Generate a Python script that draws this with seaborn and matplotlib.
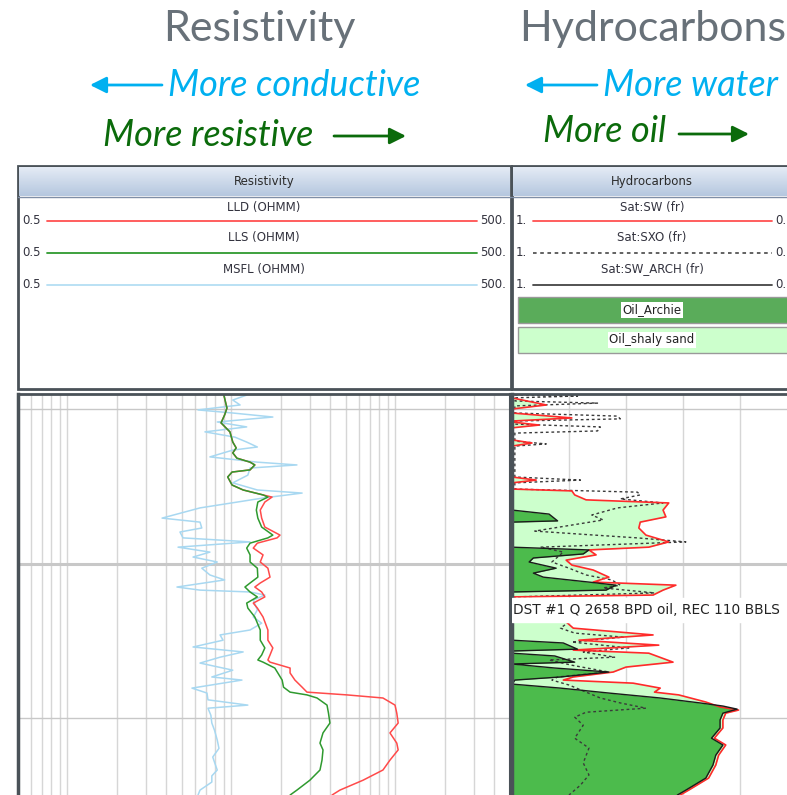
import numpy as np
import matplotlib
matplotlib.use("Agg")
import matplotlib.pyplot as plt
import seaborn as sns
from matplotlib.colors import LinearSegmentedColormap
from matplotlib.patches import Rectangle
from matplotlib.ticker import LogLocator, NullFormatter

# ---------------- resistivity track (depth ft / ohmm) ----------------
res_depth = [5295.5, 5299.7, 5301.9, 5304.5, 5307.4, 5310.7, 5312.6, 5314.2, 5315.9, 5317.2,
             5318.1, 5319.7, 5320.4, 5322.0, 5324.6, 5326.2, 5327.8, 5328.5, 5330.1, 5332.7,
             5335.3, 5338.2, 5340.8, 5341.7, 5343.4, 5345.0, 5347.2, 5349.5, 5351.5, 5354.4,
             5356.3, 5357.6, 5359.2, 5360.8, 5362.8, 5364.4, 5367.3, 5371.5, 5374.8, 5377.3,
             5379.6, 5381.2, 5381.9, 5383.8, 5385.4, 5387.7, 5390.0, 5391.6, 5392.5, 5393.5,
             5395.8, 5398.4, 5401.6, 5404.8, 5408.1, 5410.3, 5413.6, 5416.8, 5420.1, 5423.3,
             5424.9]
lld = [9.0, 9.4, 9.1, 8.65, 9.8, 10.2, 10.7, 10.2, 10.8, 13.0,
       13.9, 13.0, 10.1, 9.5, 10.1, 11.8, 15.6, 17.7, 16.0, 15.0,
       15.3, 16.0, 19.8, 19.0, 14.4, 13.6, 15.6, 15.0, 16.7, 17.2,
       15.0, 13.9, 15.3, 16.0, 13.6, 14.4, 15.6, 16.7, 16.7, 17.9,
       17.2, 16.7, 17.2, 22.8, 22.8, 24.4, 27.0, 28.9, 50.7, 84,
       99.5, 102, 104, 92.7, 102, 104, 92.7, 84, 63.5, 45.9,
       41.1]
lls = [9.0, 9.4, 9.1, 8.65, 9.8, 10.2, 10.7, 10.2, 10.8, 13.0,
       13.9, 13.0, 10.1, 9.5, 10.1, 11.8, 15.6, 16.7, 14.5, 14.2,
       14.5, 15.3, 17.9, 16.7, 13.0, 12.4, 13.0, 13.0, 14.4, 14.5,
       13.0, 12.1, 13.0, 14.4, 12.4, 12.6, 13.9, 15.0, 15.0, 16.0,
       15.3, 14.5, 15.6, 18.4, 19.2, 20.4, 20.8, 22.8, 28.9, 33.3,
       38.3, 39.1, 39.9, 36.2, 34.7, 36.2, 35.7, 34.7, 30.1, 25.1,
       22.8]
msfl_depth = [5295.5, 5297.1, 5298.7, 5300.3, 5301.3, 5302.6, 5304.2, 5305.8, 5307.4, 5309.1,
              5310.7, 5312.3, 5313.3, 5315.5, 5317.2, 5318.1, 5319.1, 5321.4, 5323.9, 5326.2,
              5327.2, 5328.8, 5332.0, 5335.3, 5336.6, 5338.5, 5339.8, 5341.7, 5343.0, 5344.7,
              5346.3, 5347.9, 5349.5, 5351.5, 5353.7, 5355.3, 5357.6, 5358.6, 5359.2, 5360.2,
              5361.8, 5365.0, 5367.3, 5369.3, 5371.5, 5373.1, 5374.8, 5377.0, 5378.6, 5380.3,
              5382.2, 5384.5, 5386.7, 5387.7, 5390.3, 5391.9, 5394.1, 5395.8, 5396.8, 5399.1,
              5401.6, 5404.0, 5407.1, 5409.8, 5412.6, 5415.2, 5416.8, 5418.7, 5420.7, 5423.3,
              5424.9]
msfl = [12.4, 10.2, 11.3, 6.26, 10.2, 17.9, 8.2, 12.4, 6.9, 10.5,
        12.4, 14.4, 10.2, 7.4, 14.4, 25.1, 13.0, 12.6, 10.2, 14.4,
        27.0, 15.6, 6.44, 3.78, 6.44, 6.6, 4.86, 5.07, 13.0, 4.73,
        7.4, 5.84, 8.2, 6.6, 7.4, 9.1, 4.66, 6.44, 13.0, 16.0,
        13.6, 14.4, 13.6, 15.3, 13.0, 8.53, 8.9, 5.84, 11.8, 8.53,
        6.44, 10.2, 7.6, 11.6, 5.75, 7.1, 7.2, 12.6, 7.2, 7.5,
        7.6, 7.9, 8.2, 8.4, 7.7, 8.0, 8.2, 7.6, 7.6, 6.44,
        6.26]

# ---------------- hydrocarbons track (depth ft / fraction) ----------------
sw_depth = [5295.5, 5296.4, 5298.7, 5300.0, 5301.3, 5302.9, 5303.9, 5304.2, 5305.2, 5306.1,
            5310.0, 5311.0, 5312.0, 5322.0, 5323.0, 5323.9, 5325.9, 5326.5, 5327.8, 5329.4,
            5330.4, 5332.7, 5334.9, 5336.6, 5338.5, 5340.8, 5343.0, 5344.7, 5345.6, 5347.2,
            5348.9, 5350.5, 5352.1, 5354.4, 5356.0, 5357.0, 5358.6, 5360.2, 5360.8, 5368.5,
            5368.9, 5370.9, 5373.1, 5374.8, 5376.4, 5378.0, 5379.0, 5381.9, 5383.5, 5385.1,
            5386.7, 5387.7, 5388.7, 5390.3, 5391.6, 5392.5, 5394.8, 5396.4, 5397.4, 5398.4,
            5400.6, 5403.2, 5406.5, 5408.7, 5412.0, 5415.2, 5419.4, 5423.3, 5424.9]
sw = [1.0, 1.0, 0.88, 1.0, 1.0, 0.79, 1.0, 1.0, 0.905, 1.0,
      1.0, 0.93, 1.0, 1.0, 0.915, 1.0, 1.0, 0.79, 0.78, 0.74,
      0.45, 0.47, 0.46, 0.55, 0.555, 0.53, 0.45, 0.52, 0.73, 0.705,
      0.81, 0.79, 0.715, 0.66, 0.715, 0.425, 0.47, 0.505, 1.0, 1.0,
      0.81, 0.785, 0.505, 0.765, 0.485, 0.785, 0.52, 0.435, 0.60, 0.645,
      0.785, 0.82, 0.575, 0.48, 0.50, 0.415, 0.32, 0.27, 0.205, 0.25,
      0.26, 0.26, 0.29, 0.25, 0.275, 0.285, 0.31, 0.38, 0.41]
arch_depth = [5295.5, 5332.7, 5334.0, 5336.2, 5336.6, 5344.7, 5345.6, 5346.9, 5348.2, 5349.5,
              5351.5, 5353.1, 5354.4, 5356.0, 5357.0, 5358.6, 5359.2, 5374.8, 5375.7, 5377.7,
              5378.3, 5379.0, 5379.9, 5381.9, 5382.5, 5383.8, 5385.1, 5386.7, 5387.7, 5389.0,
              5390.3, 5391.9, 5393.5, 5395.1, 5396.1, 5397.1, 5398.4, 5400.6, 5403.2, 5406.5,
              5408.7, 5412.0, 5415.2, 5419.4, 5423.3, 5424.9]
sw_arch = [1.0, 1.0, 0.87, 0.84, 1.0, 1.0, 0.73, 0.75, 0.925, 0.94,
           0.845, 0.925, 0.89, 0.73, 0.635, 0.67, 1.0, 1.0, 0.82, 0.77,
           1.0, 1.0, 0.85, 0.78, 1.0, 0.85, 0.66, 0.83, 0.99, 1.0,
           0.83, 0.66, 0.48, 0.34, 0.26, 0.21, 0.26, 0.27, 0.27, 0.30,
           0.26, 0.285, 0.295, 0.32, 0.39, 0.42]
sxo_depth = [5295.5, 5295.8, 5296.4, 5297.4, 5298.1, 5299.0, 5301.3, 5302.3, 5303.2, 5303.9,
             5304.9, 5305.8, 5307.1, 5307.8, 5310.4, 5311.3, 5312.0, 5322.0, 5323.0, 5323.9,
             5325.9, 5326.9, 5327.8, 5329.1, 5330.4, 5332.0, 5334.3, 5335.9, 5339.5, 5340.8,
             5341.7, 5343.0, 5344.7, 5346.3, 5349.5, 5351.5, 5353.7, 5355.3, 5357.0, 5357.9,
             5359.5, 5360.8, 5368.5, 5368.9, 5370.9, 5372.5, 5373.8, 5375.4, 5377.3, 5378.6,
             5380.3, 5381.2, 5382.9, 5385.1, 5386.7, 5387.7, 5389.3, 5391.6, 5393.5, 5395.1,
             5396.8, 5398.1, 5399.7, 5402.3, 5406.5, 5409.7, 5414.5, 5418.4, 5421.7, 5424.9]
sxo = [0.99, 0.77, 0.99, 0.99, 0.70, 0.99, 0.99, 0.63, 0.62, 0.99,
       0.99, 0.69, 0.70, 0.99, 0.99, 0.88, 0.99, 0.99, 0.76, 0.99,
       0.99, 0.56, 0.55, 0.62, 0.47, 0.63, 0.72, 0.68, 0.92, 0.71,
       0.56, 0.39, 0.90, 0.82, 0.86, 0.80, 0.74, 0.65, 0.62, 0.68,
       0.50, 0.99, 0.99, 0.80, 0.83, 0.78, 0.61, 0.79, 0.59, 0.75,
       0.64, 0.87, 0.79, 0.66, 0.84, 0.86, 0.80, 0.74, 0.69, 0.62,
       0.53, 0.74, 0.78, 0.75, 0.78, 0.73, 0.75, 0.73, 0.76, 0.80]

depth_grid = [5300, 5350, 5400]
dst_depth = 5365.0
dst_label = "DST #1 Q 2658 BPD oil, REC 110 BBLS"

sns.set_theme(style="white")
plt.rcParams['font.family'] = ['DejaVu Sans']

W, H = 787, 795
fig = plt.figure(figsize=(W / 100, H / 100), dpi=100)


def box(x0, y0, x1, y1):
    # pixel box -> figure fraction
    return [x0 / W, 1 - y1 / H, (x1 - x0) / W, (y1 - y0) / H]


# overlay for titles / headers
ov = fig.add_axes([0, 0, 1, 1], zorder=0)
ov.set_xlim(0, W)
ov.set_ylim(H, 0)
ov.axis('off')

gray_title = '#687179'
cyan = '#00b0f0'
dgreen = '#0b6b0b'
frame = '#4a5258'

title_kw = dict(ha='left', va='center', fontsize=31, color=gray_title, family='Lato')
ov.text(163, 29, 'Resistivity', **title_kw)
ov.text(519, 29, 'Hydrocarbons', **title_kw)
note_kw = dict(ha='left', va='center', fontsize=26, family='Lato', style='italic')
ov.text(168, 85, 'More conductive', color=cyan, **note_kw)
ov.text(103, 135, 'More resistive', color=dgreen, **note_kw)
ov.text(603, 85, 'More water', color=cyan, **note_kw)
ov.text(543, 132, 'More oil', color=dgreen, **note_kw)

arrow_kw = dict(arrowstyle='-|>,head_length=0.7,head_width=0.35', lw=2,
                mutation_scale=14, shrinkA=0, shrinkB=0)
ov.annotate('', xy=(90, 85), xytext=(162, 85), arrowprops=dict(color=cyan, **arrow_kw))
ov.annotate('', xy=(525, 85), xytext=(597, 85), arrowprops=dict(color=cyan, **arrow_kw))
ov.annotate('', xy=(406, 136), xytext=(334, 136), arrowprops=dict(color=dgreen, **arrow_kw))
ov.annotate('', xy=(749, 134), xytext=(679, 134), arrowprops=dict(color=dgreen, **arrow_kw))

bar_cmap = LinearSegmentedColormap.from_list('bar', ['#e4ebf5', '#b5c7df'])
grad = np.linspace(0, 1, 32)[:, None]
headers = [(18, 511, 'Resistivity', 264), (512, 800, 'Hydrocarbons', 652)]
for x0, x1, name, xc in headers:
    ov.add_patch(Rectangle((x0, 166), x1 - x0, 223, fc='white', ec=frame, lw=2, zorder=1))
    ov.imshow(grad, extent=(x0 + 1, x1 - 1, 196, 167), cmap=bar_cmap, aspect='auto', zorder=2)
    ov.plot([x0, x1], [196.5, 196.5], color='#7f8ea6', lw=1, zorder=3)
    ov.text(xc, 182, name, ha='center', va='center', fontsize=8.5, color='#2b2b2b', zorder=3)
ov.set_xlim(0, W)
ov.set_ylim(H, 0)

small = dict(fontsize=8.5, color='#33333f', va='center', zorder=3)
res_rows = [('LLD (OHMM)', '#ff5050', '-'), ('LLS (OHMM)', '#2f9a2f', '-'),
            ('MSFL (OHMM)', '#b4def3', '-')]
sat_rows = [('Sat:SW (fr)', '#ff5050', '-'), ('Sat:SXO (fr)', '#555555', (0, (2, 2))),
            ('Sat:SW_ARCH (fr)', '#444444', '-')]
for i in range(3):
    ly, sy = 207 + 31 * i, 221 + 32 * i
    lab, col, ls = res_rows[i]
    ov.text(264, ly, lab, ha='center', **small)
    ov.plot([47, 477], [sy, sy], color=col, lw=1.3, ls=ls, zorder=3)
    ov.text(22, sy, '0.5', ha='left', **small)
    ov.text(480, sy, '500.', ha='left', **small)
    lab, col, ls = sat_rows[i]
    ov.text(652, ly, lab, ha='center', **small)
    ov.plot([533, 772], [sy, sy], color=col, lw=1.3, ls=ls, zorder=3)
    ov.text(516, sy, '1.', ha='left', **small)
    ov.text(775, sy, '0.', ha='left', **small)

for y0, fc, lab in [(297, '#5aac5a', 'Oil_Archie'), (327, '#ccffcc', 'Oil_shaly sand')]:
    ov.add_patch(Rectangle((518, y0), 290, 26, fc=fc, ec='#999999', lw=1, zorder=3))
    ov.text(652, y0 + 13, lab, ha='center', va='center', fontsize=8.5, color='#222222', zorder=4,
            bbox=dict(fc='white', ec='none', pad=1))

# ---------------- resistivity log ----------------
ax1 = fig.add_axes(box(18, 394, 510, 800), zorder=2)
ax1.set_xscale('log')
sns.lineplot(x=msfl, y=msfl_depth, orient='y', sort=False, estimator=None,
             color='#a8d8f1', lw=1.1, ax=ax1)
sns.lineplot(x=lld, y=res_depth, orient='y', sort=False, estimator=None,
             color='#ff4a4a', lw=1.1, ax=ax1)
sns.lineplot(x=lls, y=res_depth, orient='y', sort=False, estimator=None,
             color='#2f9a2f', lw=1.1, ax=ax1)
ax1.set_xlim(0.5, 500)
ax1.xaxis.set_minor_locator(LogLocator(base=10, subs=np.arange(2, 10)))
ax1.xaxis.set_minor_formatter(NullFormatter())

# ---------------- hydrocarbons log ----------------
ax2 = fig.add_axes(box(512, 394, 797, 800), zorder=2)
ax2.fill_betweenx(sw_depth, 1, sw, color='#ccffcc', lw=0, zorder=1)
ax2.fill_betweenx(arch_depth, 1, sw_arch, color='#4cbb4c', lw=0, zorder=1.5)
sns.lineplot(x=sxo, y=sxo_depth, orient='y', sort=False, estimator=None,
             color='#3a3a3a', lw=1, linestyle=(0, (2, 2)), ax=ax2, zorder=2)
sns.lineplot(x=sw, y=sw_depth, orient='y', sort=False, estimator=None,
             color='#ff2a2a', lw=1.2, ax=ax2, zorder=2)
sns.lineplot(x=sw_arch, y=arch_depth, orient='y', sort=False, estimator=None,
             color='#1a1a1a', lw=1, ax=ax2, zorder=2.5)
ax2.set_xlim(1, 0)
ax2.set_xticks([0.8, 0.6, 0.4, 0.2])
ax2.axhspan(dst_depth - 4.0, dst_depth + 3.9, color='white', zorder=4)
ax2.text(0.995, dst_depth, dst_label, ha='left', va='center', fontsize=9.9,
         color='#222222', zorder=5)

for ax in (ax1, ax2):
    ax.set_ylim(5426.5, 5295.15)
    ax.set_yticks(depth_grid)
    ax.grid(True, which='both', axis='x', color='#d6d6d6', lw=1, zorder=0)
    ax.grid(True, which='major', axis='y', color='#c8c8c8', lw=1, zorder=0)
    ax.yaxis.get_gridlines()[1].set_linewidth(2.2)
    ax.set_axisbelow(True)
    ax.tick_params(which='both', length=0, labelleft=False, labelbottom=False)
    ax.set_xlabel('')
    ax.set_ylabel('')
    for side in ('left', 'top', 'right'):
        ax.spines[side].set_color(frame)
    ax.spines['left'].set_linewidth(2.5)
    ax.spines['top'].set_linewidth(2)
    ax.spines['right'].set_linewidth(1.5)
    ax.spines['bottom'].set_visible(False)

fig.savefig('out.png', dpi=100)
